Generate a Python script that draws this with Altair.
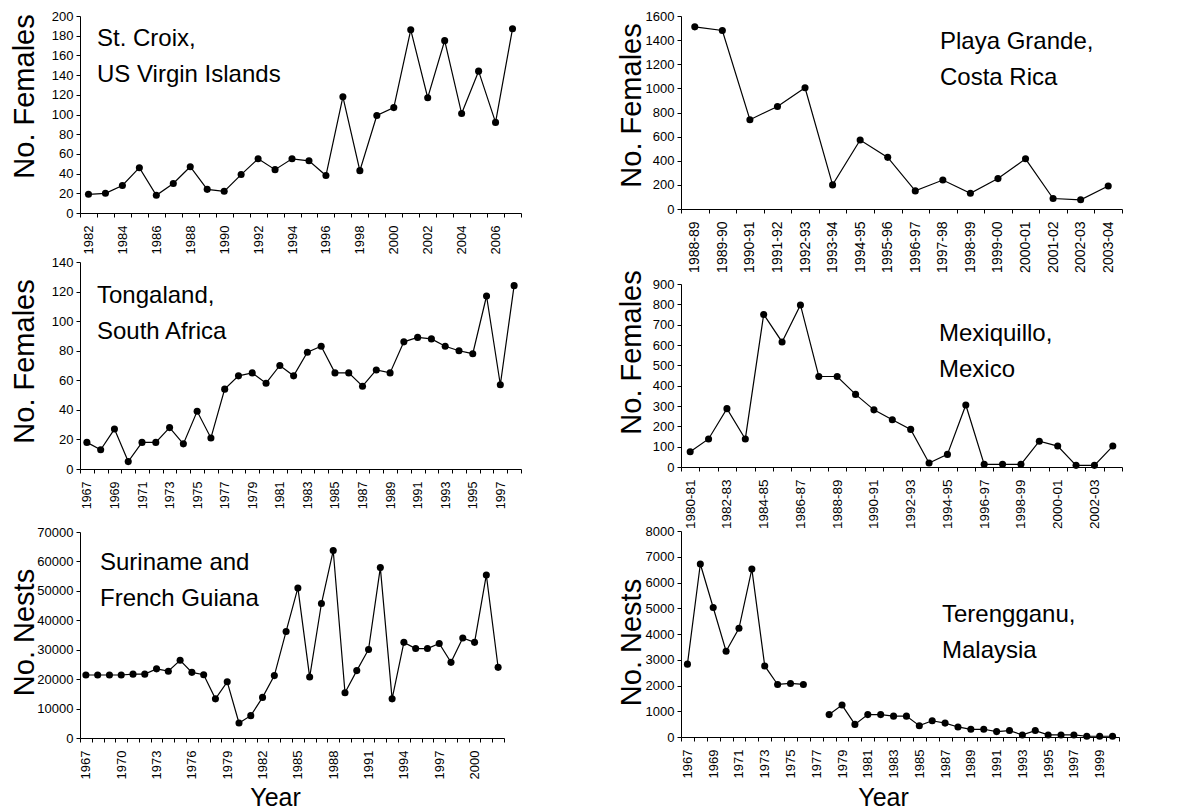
import altair as alt
import pandas as pd

FONT = "Liberation Sans"

# ---------------- data ----------------
stcroix_years = list(range(1982, 2008))
stcroix_females = [19, 20, 28, 46, 18, 30, 47, 24, 22, 39, 55, 44, 55, 53, 38,
                   118, 43, 99, 107, 186, 117, 175, 101, 144, 92, 187]

playa_seasons = ["1988-89", "1989-90", "1990-91", "1991-92", "1992-93", "1993-94",
                 "1994-95", "1995-96", "1996-97", "1997-98", "1998-99", "1999-00",
                 "2000-01", "2001-02", "2002-03", "2003-04"]
playa_females = [1510, 1480, 740, 850, 1005, 200, 572, 428, 150, 240, 130, 252,
                 416, 87, 76, 190]

tonga_years = list(range(1967, 1999))
tonga_females = [18, 13, 27, 5, 18, 18, 28, 17, 39, 21, 54, 63, 65, 58, 70, 63,
                 79, 83, 65, 65, 56, 67, 65, 86, 89, 88, 83, 80, 78, 117, 57, 124]

mex_seasons = ["1980-81", "1981-82", "1982-83", "1983-84", "1984-85", "1985-86",
               "1986-87", "1987-88", "1988-89", "1989-90", "1990-91", "1991-92",
               "1992-93", "1993-94", "1994-95", "1995-96", "1996-97", "1997-98",
               "1998-99", "1999-00", "2000-01", "2001-02", "2002-03", "2003-04"]
mex_females = [75, 138, 287, 138, 750, 615, 797, 445, 445, 357, 281, 232, 185,
               20, 62, 305, 13, 13, 13, 127, 103, 8, 8, 103]
mex_shown_labels = ["1980-81", "1982-83", "1984-85", "1986-87", "1988-89", "1990-91",
                    "1992-93", "1994-95", "1996-97", "1998-99", "2000-01", "2002-03"]

suri_years = list(range(1967, 2003))
suri_nests = [21400, 21400, 21400, 21400, 21700, 21700, 23500, 22700, 26400, 22300,
              21500, 13300, 19100, 5100, 7600, 13800, 21200, 36200, 51000, 20700,
              45700, 63700, 15400, 22900, 30100, 57900, 13300, 32500, 30400, 30400,
              32100, 25700, 34000, 32500, 55400, 24000]

tere_domain = list(range(1967, 2001))
tere_years = [1967, 1968, 1969, 1970, 1971, 1972, 1973, 1974, 1975, 1976,
              1978, 1979, 1980, 1981, 1982, 1983, 1984, 1985, 1986, 1987, 1988,
              1989, 1990, 1991, 1992, 1993, 1994, 1995, 1996, 1997, 1998, 1999, 2000]
tere_nests = [2830, 6720, 5030, 3330, 4220, 6520, 2760, 2040, 2080, 2040,
              870, 1240, 490, 870, 870, 810, 810, 440, 630, 540, 390,
              300, 300, 210, 250, 80, 250, 80, 80, 80, 30, 30, 30]
tere_segment = [0 if y < 1977 else 1 for y in tere_years]


def panel(df, xtype, domain, label_expr, y_title, y_max, y_step,
          width, height, y_bottom, y_top, site_text, tx, ty, title_x, title_y,
          x_offset=0, x_title=None, xt_x=0, xt_y=0, detail=False, xlab=13):
    yvals = list(range(0, y_max + 1, y_step))
    xaxis_kw = dict(labelExpr=label_expr, labelAngle=270, tickBand="extent",
                    labelPadding=8, labelFontSize=xlab, offset=x_offset)
    xscale = alt.Scale(type="band", domain=domain, paddingInner=0, paddingOuter=0)
    if x_title:
        x = alt.X(f"x:{xtype}", scale=xscale,
                  axis=alt.Axis(title=x_title, titleX=xt_x, titleY=xt_y,
                                titleBaseline="alphabetic", titleAlign="center",
                                titleFontSize=25, **xaxis_kw))
    else:
        x = alt.X(f"x:{xtype}", title=None, scale=xscale, axis=alt.Axis(**xaxis_kw))
    y = alt.Y("v:Q",
              scale=alt.Scale(domain=[0, y_max], range=[y_bottom, y_top], nice=False, zero=True),
              axis=alt.Axis(values=yvals, format="d", title=y_title, titleX=title_x,
                            titleY=title_y, titleAngle=270, titleAlign="center",
                            titleBaseline="alphabetic", titleFontSize=29,
                            labelPadding=3, labelFontSize=13))
    base = alt.Chart(df)
    enc = dict(x=x, y=y)
    if detail:
        line = base.mark_line(color="black", strokeWidth=1.2).encode(detail="seg:N", **enc)
    else:
        line = base.mark_line(color="black", strokeWidth=1.2).encode(**enc)
    pts = base.mark_circle(color="black", size=50, opacity=1).encode(**enc)
    txt = alt.Chart(pd.DataFrame({"k": [0]})).mark_text(
        align="left", baseline="middle", fontSize=24, font=FONT, lineBreak="\n",
        lineHeight=36, color="black"
    ).encode(x=alt.value(tx), y=alt.value(ty), text=alt.value(site_text))
    return alt.layer(line, pts, txt).properties(width=width, height=height)


df1 = pd.DataFrame({"x": stcroix_years, "v": stcroix_females})
df2 = pd.DataFrame({"x": playa_seasons, "v": playa_females})
df3 = pd.DataFrame({"x": tonga_years, "v": tonga_females})
df4 = pd.DataFrame({"x": mex_seasons, "v": mex_females})
df5 = pd.DataFrame({"x": suri_years, "v": suri_nests})
df6 = pd.DataFrame({"x": tere_years, "v": tere_nests, "seg": tere_segment})

even_expr = "datum.value % 2 == 0 ? datum.label : ''"
odd_expr = "datum.value % 2 == 1 ? datum.label : ''"
third_expr = "(datum.value - 1967) % 3 == 0 ? datum.label : ''"
mex_expr = ("indexof([" + ",".join("'" + s + "'" for s in mex_shown_labels)
            + "], datum.value) >= 0 ? datum.label : ''")

# row 1 (view top 16, height 197)
p1 = panel(df1, "O", stcroix_years, even_expr, "No. Females", 200, 20,
           441, 197, 197, 0, "St. Croix,\nUS Virgin Islands", 17, 23, -47, 80,
           xlab=13)
p2 = panel(df2, "N", playa_seasons, "datum.label", "No. Females", 1600, 200,
           441, 197, 193, 0, "Playa Grande,\nCosta Rica", 259, 26, -41, 89,
           x_offset=-4, xlab=14)
# row 2 (view top 258, height 211)
p3 = panel(df3, "O", tonga_years, odd_expr, "No. Females", 140, 20,
           441, 211, 211, 4, "Tongaland,\nSouth Africa", 17, 38, -47, 103,
           xlab=12.5)
p4 = panel(df4, "N", mex_seasons, mex_expr, "No. Females", 900, 100,
           441, 211, 209, 26, "Mexiquillo,\nMexico", 258, 76, -41, 94,
           x_offset=-2, xlab=13.5)
# row 3 (view top 514, height 224)
p5 = panel(df5, "O", suri_years, third_expr, "No. Nests", 70000, 10000,
           424, 224, 224, 18, "Suriname and\nFrench Guiana", 20, 49, -47, 118,
           x_title="Year", xt_x=195, xt_y=67, xlab=13)
p6 = panel(df6, "O", tere_domain, odd_expr, "No. Nests", 8000, 1000,
           438, 224, 223, 17, "Terengganu,\nMalaysia", 261, 101, -41, 128,
           x_offset=-1, x_title="Year", xt_x=202, xt_y=68, detail=True, xlab=13)

chart = alt.concat(
    p1, p2, p3, p4, p5, p6, columns=2, bounds="flush",
    spacing={"row": 45, "column": 160}
).properties(
    padding={"left": 2, "top": 2, "right": 5, "bottom": 70}
).configure_view(
    strokeWidth=0
).configure_axis(
    grid=False, domainColor="black", tickColor="black", labelColor="black",
    titleColor="black", labelFont=FONT, titleFont=FONT, titleFontWeight="normal",
    tickSize=4, domainWidth=1, tickWidth=1
)

chart.save("out.html", embed_options={"renderer": "svg", "actions": False})
